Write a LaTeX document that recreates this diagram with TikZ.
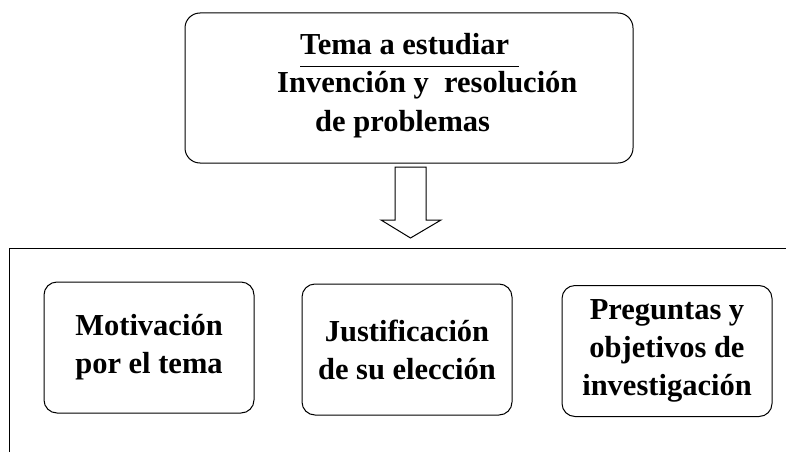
\documentclass[tikz,border=0pt]{standalone}
\usepackage{fontspec}
\setmainfont{Liberation Serif}
\usetikzlibrary{positioning}

\tikzset{
  caja/.style={draw, line width=1pt, rounded corners=13pt, minimum width=210pt,
    minimum height=131pt, align=center, inner sep=0pt,
    font=\bfseries\fontsize{30.5}{38}\selectfont},
  linea/.style={inner sep=0pt, anchor=base west,
    font=\bfseries\fontsize{30.5}{37}\selectfont}
}

\begin{document}
\begin{tikzpicture}[x=1pt, y=-1pt]

\useasboundingbox (0,0) rectangle (786,452);

\node[draw, line width=1pt, rounded corners=15pt, minimum width=448pt,
  minimum height=150pt, inner sep=0pt] (tema) at (409,88) {};

\node[linea] (t1) at (300,55) {Tema a estudiar};
\node[linea] (t2) at (277,92) {Invención y\ \ resolución};
\node[linea] (t3) at (315,131) {de problemas};
\draw[line width=1pt] (t1.base west) ++(0,11) -- ++(219,0);

% flecha
\coordinate (A) at (395,167);
\coordinate (B) at (426,167);
\coordinate (C) at (426,220);
\coordinate (D) at (441,220);
\coordinate (E) at (410.5,238);
\coordinate (F) at (381,220);
\coordinate (G) at (395,220);

\draw[line width=1pt] (A) -- (B) -- (C) -- (D) -- (E) -- (F) -- (G) -- cycle;

% marco
\coordinate (P) at (9,452);
\coordinate (Q) at (9,248);
\coordinate (R) at (786,248);
\draw[line width=1pt] (P) -- (Q) -- (R);

\node[caja] (motiv) at (149,347.5) {Motivación\\por el tema};
\node[caja, right=47pt of motiv, yshift=-2pt] (justif) {Justificación\\de su elección};
\node[caja, right=49pt of justif, yshift=-1.5pt] (preg) {Preguntas y\\objetivos de\\investigación};

\end{tikzpicture}
\end{document}
